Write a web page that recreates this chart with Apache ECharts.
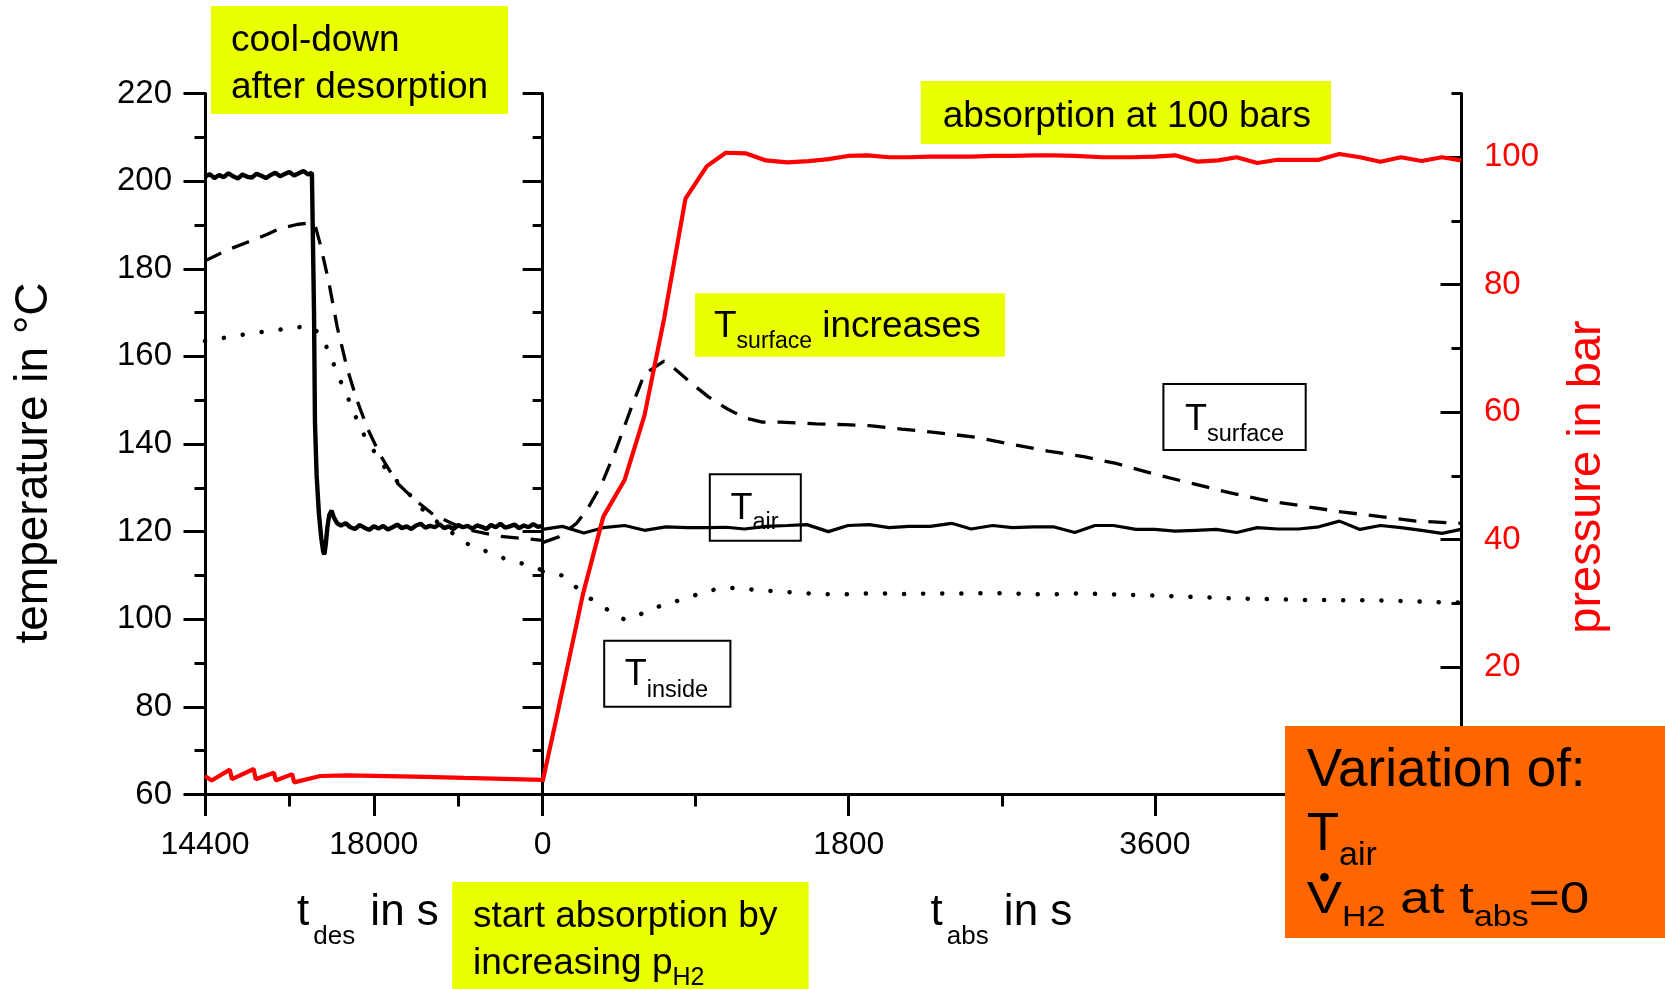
<!DOCTYPE html>
<html>
<head>
<meta charset="utf-8">
<script src="https://cdn.jsdelivr.net/npm/echarts@6/dist/echarts.min.js"></script>
<style>
html,body{margin:0;padding:0;background:#fff;}
#chart{width:1665px;height:989px;}
</style>
</head>
<body>
<div id="chart"></div>
<script>
// ---------------- DATA ----------------
// Desorption (cool-down) phase, time t_des in s
const desTimeAir = [14400,14500,14600,14700,14800,14900,15000,15100,15200,15300,15400,15500,15600,15700,15800,15900,16000,16100,16200,16300,16400,16500,16600,16680,
  16710,16725,16745,16780,16830,16880,16920,16945,16975,17010,17050,17100,17150,17220,
  17300,17400,17500,17600,17700,17800,17900,18000,18100,18200,18300,18400,18500,18600,18700,18800,18900,19000,19100,19200,19300,19400,19500,19600,19700,19800,19900,20000,20100,20200,20300,20400,20500,20600,20700,20800,20900,21000,21100,21200,21300,21400,21500,21600];
const desTempAir = [201.0,201.6,200.7,201.4,200.9,201.8,201.1,200.6,201.5,201.0,200.8,201.7,201.2,200.7,201.4,201.9,201.1,201.6,202.1,201.3,201.8,202.3,201.5,201.9,
  201.5,170,145,133,124,118.5,115.5,114.8,117.0,121.0,123.8,124.8,123.2,121.9,
  121.4,121.9,121.0,120.6,121.5,120.9,120.4,121.2,120.7,121.3,120.5,121.0,121.6,120.8,121.2,120.6,121.4,121.8,120.9,121.3,121.0,121.7,120.8,121.2,120.6,121.5,121.0,121.3,120.7,121.4,121.1,120.6,121.5,121.0,121.8,120.9,121.2,121.6,120.8,121.4,121.0,121.7,121.1,121.3];

const desTimeSurf = [14400,14860,15290,15720,16000,16360,16680,16750,16860,17040,17220,17430,17640,17860,18140,18500,18860,19280,19930,20640,21600];
const desTempSurf = [181.8,184.2,186.0,187.8,189.2,190.1,190.5,189.8,185.5,177.0,166.7,157.3,150.0,143.7,137.4,131.1,127.4,123.8,120.6,119.0,118.0];

const desTimeIn = [14400,15290,16000,16650,16900,17040,17180,17320,17470,17610,17790,17970,18140,18360,18570,18860,19140,19570,19930,20420,20780,21140,21600];
const desTempIn = [163.5,165.1,166.1,167.0,164.6,160.9,157.3,153.6,150.0,146.3,142.1,139.0,135.8,133.2,130.6,127.4,123.8,120.6,117.5,115.4,113.9,112.8,111.2];

const desTimeP = [14400,14540,14930,14975,15440,15480,15870,15910,16260,16300,16860,17430,18860,19930,21600];
const desPress = [2.9,2.2,3.9,2.4,4.0,2.4,3.4,2.2,3.2,1.9,2.9,3.0,2.8,2.6,2.3];

// Absorption phase, time t_abs in s
const absTimeAir = [0,116,242,357,483,599,725,850,977,1080,1187,1313,1439,1554,1680,1796,1922,2037,2153,2279,2405,2520,2646,2762,2888,3003,3129,3248,3357,3489,3599,3719,3840,3961,4081,4202,4323,4444,4564,4685,4806,4926,5047,5168,5288,5400];
const absTempAir = [120.5,121.2,119.7,120.9,121.4,120.3,121.1,120.9,120.9,121.0,120.6,121.2,121.4,121.6,120.0,121.4,121.6,120.9,121.2,121.2,121.9,120.6,121.4,120.9,121.1,121.1,119.8,121.4,121.4,120.5,120.5,120.1,120.3,120.5,119.8,120.9,120.6,120.6,121.1,122.4,120.5,121.4,120.9,120.3,119.6,120.5];

const absTimeSurf = [0,95,200,263,347,431,515,599,714,767,893,977,1082,1187,1292,1397,1607,1775,1922,2111,2342,2552,2762,2972,3182,3379,3599,3818,4038,4257,4476,4696,4915,5135,5400];
const absTempSurf = [117.5,118.8,121.9,125.1,130.8,138.7,147.6,156.0,158.9,157.5,153.3,150.7,148.1,146.0,145.0,145.0,144.6,144.4,144.2,143.4,142.5,141.5,139.9,138.4,137.1,135.5,133.1,131.0,128.9,127.1,125.8,124.5,123.5,122.4,121.9];

const absTimeIn = [0,126,242,368,483,599,725,840,956,1082,1197,1323,1439,1565,1680,1796,1922,2037,2153,2279,2405,2520,2636,2762,2888,3003,3160,3599,4038,4476,4915,5354,5400];
const absTempIn = [110.9,109.9,105.7,102.5,99.9,101.5,103.6,104.6,106.4,107.2,106.9,106.5,106.2,105.9,105.7,105.7,105.9,105.9,105.7,105.9,105.9,105.9,106.0,105.9,105.7,105.7,105.9,105.4,104.8,104.4,104.3,103.8,103.8];

const absTimeP = [0,84,237,357,483,599,714,840,966,1077,1197,1313,1439,1565,1680,1796,1911,2037,2153,2279,2405,2520,2646,2762,2888,3003,3129,3292,3467,3599,3719,3851,3972,4081,4202,4323,4444,4564,4685,4806,4926,5047,5168,5288,5400];
const absPress = [2.0,12.3,31.4,43.6,49.4,59.5,74.6,93.5,98.6,100.7,100.6,99.5,99.2,99.4,99.7,100.2,100.3,100.0,100.0,100.1,100.1,100.1,100.2,100.2,100.3,100.3,100.2,100.0,100.0,100.1,100.3,99.3,99.5,100.0,99.1,99.6,99.6,99.6,100.5,100.0,99.3,100.0,99.4,100.0,99.5];

// Axis ticks / labels
const pressMajorTicks = [0,20,40,60,80,100];
const pressLabels = [20,40,60,80,100];
const pressMinorTicks = [10,30,50,70,90,110];

// ---------------- CHART ----------------
const FF = "'Liberation Sans', Arial, Helvetica, sans-serif";
const BLACK = '#000000', RED = '#ff0000', YELLOW = '#eaff00', ORANGE = '#ff6600';
const zip = (xs, ys) => xs.map((x, i) => [x, ys[i]]);
const lineAx = {show: true, onZero: false, lineStyle: {color: BLACK, width: 3}};
const tickStyle = {color: BLACK, width: 3};
const labelFmt = v => String(v);

const chart = echarts.init(document.getElementById('chart'));

const solidDes = {color: BLACK, width: 4.4};
const solid = {color: BLACK, width: 3.2};
const dashed = {color: BLACK, width: 3.3, type: [18, 12]};
const dotted = {color: BLACK, width: 4.5, type: [0.1, 19], cap: 'round'};
const redLine = {color: RED, width: 4.2};

// main text + subscript; LH controls how far the subscript drops
function sub(main, s, LH, pad) {
  return {
    m: {fontSize: main, lineHeight: LH, verticalAlign: 'middle', fontFamily: FF, fill: BLACK},
    s: {fontSize: s, lineHeight: s, verticalAlign: 'bottom', fontFamily: FF, fill: BLACK, padding: pad || [0, 0, 0, 0]}
  };
}

const graphics = [
  // cool-down box
  {type: 'rect', z: 50, shape: {x: 211, y: 6, width: 297, height: 108}, style: {fill: YELLOW}},
  {type: 'text', z: 51, x: 231, y: 17.2, style: {text: 'cool-down\nafter desorption', fontSize: 37, lineHeight: 47, fontFamily: FF, fill: BLACK, align: 'left', verticalAlign: 'top'}},
  // absorption at 100 bars
  {type: 'rect', z: 50, shape: {x: 920.7, y: 81, width: 410.3, height: 63}, style: {fill: YELLOW}},
  {type: 'text', z: 51, x: 942.7, y: 116.4, style: {text: 'absorption at 100 bars', fontSize: 37, fontFamily: FF, fill: BLACK, align: 'left', verticalAlign: 'middle'}},
  // T_surface increases
  {type: 'rect', z: 50, shape: {x: 695, y: 293.3, width: 310, height: 63.4}, style: {fill: YELLOW}},
  {type: 'text', z: 51, x: 714, y: 326.5, style: {text: '{m|T}{s|surface}{m| increases}', align: 'left', verticalAlign: 'middle', rich: sub(37, 23, 52.7)}},
  // boxed curve labels
  {type: 'rect', z: 5, shape: {x: 1163.4, y: 384, width: 142.3, height: 66}, style: {fill: 'none', stroke: BLACK, lineWidth: 2}},
  {type: 'text', z: 6, x: 1185, y: 420.5, style: {text: '{m|T}{s|surface}', align: 'left', verticalAlign: 'middle', rich: sub(36, 23.5, 51.6)}},
  {type: 'rect', z: 5, shape: {x: 709.8, y: 474.3, width: 91, height: 66.4}, style: {fill: 'none', stroke: BLACK, lineWidth: 2}},
  {type: 'text', z: 6, x: 730.4, y: 509, style: {text: '{m|T}{s|air}', align: 'left', verticalAlign: 'middle', rich: sub(36, 23.5, 50.8)}},
  {type: 'rect', z: 5, shape: {x: 604.2, y: 640.7, width: 126.2, height: 66}, style: {fill: 'none', stroke: BLACK, lineWidth: 2}},
  {type: 'text', z: 6, x: 624.8, y: 675, style: {text: '{m|T}{s|inside}', align: 'left', verticalAlign: 'middle', rich: sub(36, 23.5, 55.4)}},
  // start absorption box
  {type: 'rect', z: 50, shape: {x: 452.2, y: 882, width: 356.4, height: 107}, style: {fill: YELLOW}},
  {type: 'text', z: 51, x: 473, y: 917.2, style: {text: 'start absorption by', fontSize: 37, fontFamily: FF, fill: BLACK, align: 'left', verticalAlign: 'middle'}},
  {type: 'text', z: 51, x: 473, y: 963.5, style: {text: '{m|increasing p}{s|H2}', align: 'left', verticalAlign: 'middle', rich: sub(37, 25, 54)}},
  // axis titles
  {type: 'text', z: 51, x: 297, y: 913.1, style: {text: '{m|t}{s|des}{m| in s}', align: 'left', verticalAlign: 'middle', rich: sub(44, 26, 74, [0, 3, 0, 4])}},
  {type: 'text', z: 51, x: 930.5, y: 913.1, style: {text: '{m|t}{s|abs}{m| in s}', align: 'left', verticalAlign: 'middle', rich: sub(44, 26, 74, [0, 3, 0, 4])}},
  {type: 'text', z: 51, x: 34, y: 463, rotation: Math.PI / 2, style: {text: 'temperature in °C', fontSize: 46, fontFamily: FF, fill: BLACK, align: 'center', verticalAlign: 'middle'}},
  {type: 'text', z: 51, x: 1587, y: 477, rotation: Math.PI / 2, style: {text: 'pressure in bar', fontSize: 47, fontFamily: FF, fill: RED, align: 'center', verticalAlign: 'middle'}},
  // orange box
  {type: 'rect', z: 100, shape: {x: 1285, y: 726, width: 380, height: 212}, style: {fill: ORANGE}},
  {type: 'text', z: 101, x: 1306.7, y: 771.7, style: {text: 'Variation of:', fontSize: 53, fontFamily: FF, fill: BLACK, align: 'left', verticalAlign: 'middle'}},
  {type: 'text', z: 101, x: 1306.7, y: 835, style: {text: '{m|T}{s|air}', align: 'left', verticalAlign: 'middle', rich: sub(53, 34, 76)}},
  {type: 'text', z: 101, x: 1306.7, y: 900.7, scaleY: 0.85, style: {text: '{m|V}{s|H2}{m| at t}{s|abs}{m|=0}', align: 'left', verticalAlign: 'middle', rich: sub(53, 34, 74)}},
  {type: 'circle', z: 101, shape: {cx: 1324.5, cy: 877.3, r: 4.3}, style: {fill: BLACK}}
];

const option = {
  animation: false,
  backgroundColor: '#ffffff',
  textStyle: {fontFamily: FF},
  grid: [
    {left: 205, top: 93.5, width: 337.6, height: 701},
    {left: 542.6, top: 93.5, width: 918.4, height: 701}
  ],
  xAxis: [
    {type: 'value', gridIndex: 0, min: 14400, max: 21600, interval: 3600,
     axisLine: lineAx, axisTick: {show: true, length: 21.5, lineStyle: tickStyle},
     minorTick: {show: true, splitNumber: 2, length: 12, lineStyle: tickStyle},
     splitLine: {show: false}, minorSplitLine: {show: false},
     axisLabel: {fontSize: 32, fontFamily: FF, color: BLACK, margin: 35, showMaxLabel: false, formatter: labelFmt}},
    {type: 'value', gridIndex: 1, min: 0, max: 5400, interval: 1800,
     axisLine: lineAx, axisTick: {show: true, length: 21.5, lineStyle: tickStyle},
     minorTick: {show: true, splitNumber: 2, length: 12, lineStyle: tickStyle},
     splitLine: {show: false}, minorSplitLine: {show: false},
     axisLabel: {fontSize: 32, fontFamily: FF, color: BLACK, margin: 35, showMaxLabel: false, formatter: labelFmt}}
  ],
  yAxis: [
    {type: 'value', gridIndex: 0, position: 'left', min: 60, max: 220, interval: 20,
     axisLine: lineAx, axisTick: {show: true, length: 21.5, lineStyle: tickStyle},
     minorTick: {show: true, splitNumber: 2, length: 10.5, lineStyle: tickStyle},
     splitLine: {show: false}, minorSplitLine: {show: false},
     axisLabel: {fontSize: 33, fontFamily: FF, color: BLACK, margin: 33, formatter: labelFmt}},
    {type: 'value', gridIndex: 0, position: 'right', min: 60, max: 220, interval: 20,
     axisLine: lineAx, axisTick: {show: true, inside: true, length: 20, lineStyle: tickStyle},
     minorTick: {show: true, splitNumber: 2, length: 10, lineStyle: tickStyle},
     splitLine: {show: false}, minorSplitLine: {show: false},
     axisLabel: {show: false}},
    {type: 'value', gridIndex: 0, min: 0, max: 110, show: false, splitLine: {show: false}},
    {type: 'value', gridIndex: 1, min: 60, max: 220, show: false, splitLine: {show: false}},
    {type: 'value', gridIndex: 1, position: 'right', min: 0, max: 110, interval: 20,
     axisLine: lineAx,
     axisTick: {show: true, inside: true, length: 20.5, lineStyle: tickStyle, customValues: pressMajorTicks},
     splitLine: {show: false},
     axisLabel: {fontSize: 33, fontFamily: FF, color: RED, margin: 23, customValues: pressLabels, formatter: labelFmt}},
    {type: 'value', gridIndex: 1, position: 'right', min: 0, max: 110, interval: 20,
     axisLine: {show: false},
     axisTick: {show: true, inside: true, length: 9.5, lineStyle: tickStyle, customValues: pressMinorTicks},
     splitLine: {show: false},
     axisLabel: {show: false}}
  ],
  series: [
    {type: 'line', name: 'T_air (des)', xAxisIndex: 0, yAxisIndex: 0, data: zip(desTimeAir, desTempAir), symbol: 'none', lineStyle: solidDes, silent: true},
    {type: 'line', name: 'T_surface (des)', xAxisIndex: 0, yAxisIndex: 0, data: zip(desTimeSurf, desTempSurf), symbol: 'none', lineStyle: dashed, silent: true},
    {type: 'line', name: 'T_inside (des)', xAxisIndex: 0, yAxisIndex: 0, data: zip(desTimeIn, desTempIn), symbol: 'none', lineStyle: dotted, silent: true},
    {type: 'line', name: 'p (des)', xAxisIndex: 0, yAxisIndex: 2, data: zip(desTimeP, desPress), symbol: 'none', lineStyle: redLine, silent: true},
    {type: 'line', name: 'T_air (abs)', xAxisIndex: 1, yAxisIndex: 3, data: zip(absTimeAir, absTempAir), symbol: 'none', lineStyle: solid, silent: true},
    {type: 'line', name: 'T_surface (abs)', xAxisIndex: 1, yAxisIndex: 3, data: zip(absTimeSurf, absTempSurf), symbol: 'none', lineStyle: dashed, silent: true},
    {type: 'line', name: 'T_inside (abs)', xAxisIndex: 1, yAxisIndex: 3, data: zip(absTimeIn, absTempIn), symbol: 'none', lineStyle: dotted, silent: true},
    {type: 'line', name: 'p (abs)', xAxisIndex: 1, yAxisIndex: 4, data: zip(absTimeP, absPress), symbol: 'none', lineStyle: redLine, silent: true}
  ],
  graphic: {elements: graphics}
};

chart.setOption(option);
</script>
</body>
</html>
